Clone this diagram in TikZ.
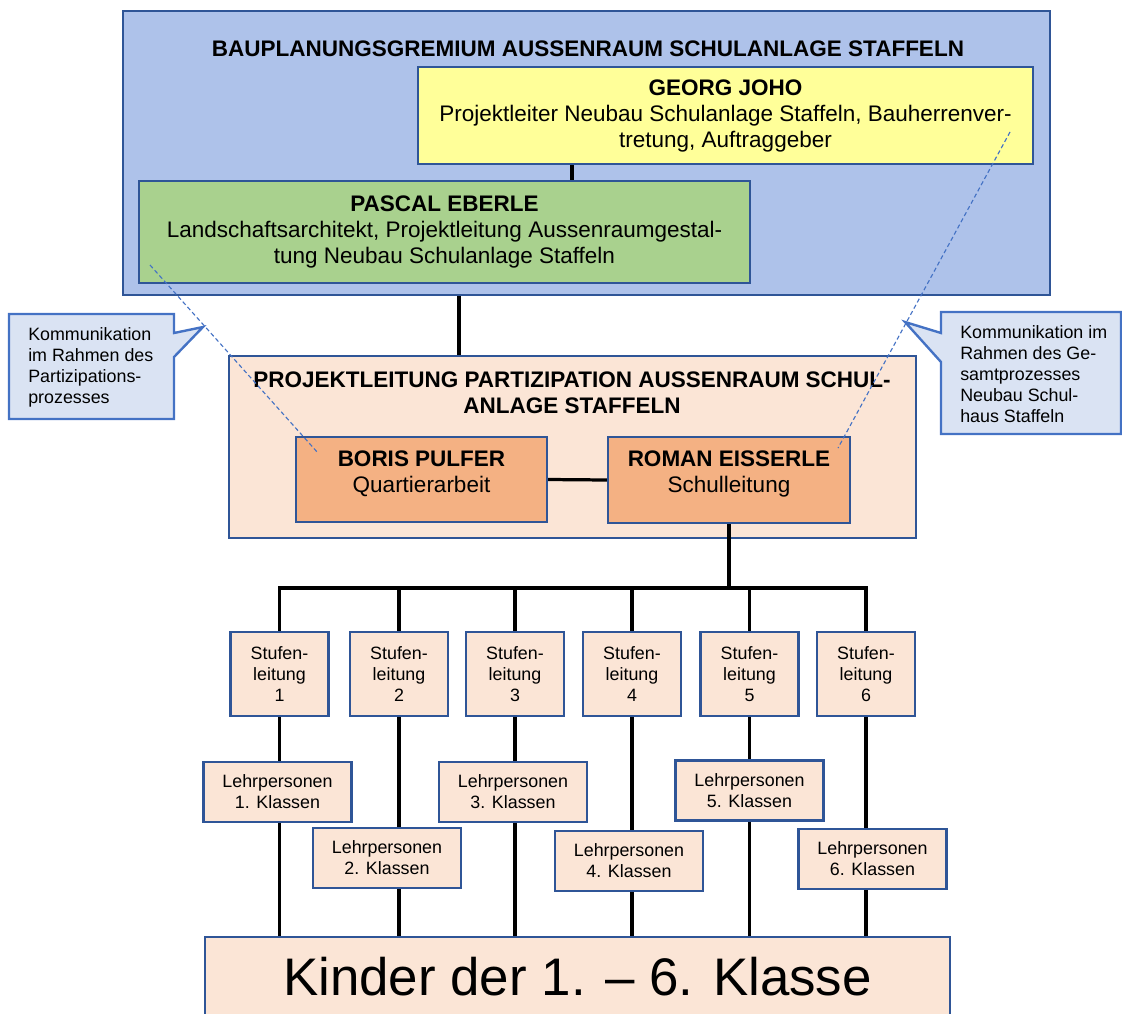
\documentclass[tikz,border=0pt]{standalone}
\usepackage{fontspec}
\setmainfont{Liberation Sans}

\definecolor{boxborder}{RGB}{47,85,151}
\definecolor{gremiumfill}{RGB}{174,194,234}
\definecolor{johofill}{RGB}{255,255,153}
\definecolor{eberlefill}{RGB}{169,209,142}
\definecolor{partfill}{RGB}{251,229,214}
\definecolor{leitfill}{RGB}{244,177,131}
\definecolor{calloutfill}{RGB}{218,227,243}
\definecolor{calloutborder}{RGB}{68,114,196}

\newcommand{\pxu}{0.025cm}

\tikzset{
  orgbox/.style={draw=boxborder, line width=1.5pt, inner sep=0pt, align=center},
  nametext/.style={font=\fontsize{16}{18.5}\selectfont},
  smalltext/.style={font=\fontsize{12.7}{14.9}\selectfont},
  link/.style={line width=2.3pt},
  hint/.style={draw=calloutborder, line width=0.8pt, dash pattern=on 3pt off 2pt},
  callout/.style={draw=calloutborder, fill=calloutfill, line width=1.7pt},
}

\begin{document}
\begin{tikzpicture}[x=\pxu, y=-\pxu]
  \useasboundingbox (0,0) rectangle (1122,1013);

  % Bauplanungsgremium
  \node[orgbox, fill=gremiumfill, minimum width=927*\pxu, minimum height=284*\pxu] (gremium) at (586.5,153) {};
  \node[nametext] (gremiumtitle) at (588,49) {\textbf{BAUPLANUNGSGREMIUM AUSSENRAUM SCHULANLAGE STAFFELN}};
  \node[orgbox, nametext, fill=johofill, minimum width=615*\pxu, minimum height=97*\pxu] (joho) at (725.5,115.5)
    {\textbf{GEORG JOHO}\\Projektleiter Neubau Schulanlage Staffeln, Bauherrenver-\\tretung, Auftraggeber};
  \node[orgbox, nametext, fill=eberlefill, minimum width=611*\pxu, minimum height=102*\pxu] (eberle) at (444.5,232)
    {\textbf{PASCAL EBERLE}\\Landschaftsarchitekt, Projektleitung Aussenraumgestal-\\tung Neubau Schulanlage Staffeln};

  % Projektleitung Partizipation
  \node[orgbox, fill=partfill, minimum width=687*\pxu, minimum height=182*\pxu] (partizipation) at (572.5,447) {};
  \node[nametext, align=center] (partitle) at (572,393)
    {\textbf{PROJEKTLEITUNG PARTIZIPATION AUSSENRAUM SCHUL-}\\\textbf{ANLAGE STAFFELN}};
  \node[orgbox, nametext, fill=leitfill, minimum width=251*\pxu, minimum height=85*\pxu, text depth=11.7pt] (pulfer) at (421.5,479.5)
    {\textbf{BORIS PULFER}\\Quartierarbeit};
  \node[orgbox, nametext, fill=leitfill, minimum width=242*\pxu, minimum height=86*\pxu, text depth=11.7pt] (eisserle) at (729,480)
    {\textbf{ROMAN EISSERLE}\\Schulleitung};

  % Stufen und Lehrpersonen
  \foreach \i/\sx in {1/279.5, 2/399, 3/515, 4/632, 5/749.5, 6/866}
    \node[orgbox, smalltext, fill=partfill, minimum width=98*\pxu, minimum height=84*\pxu] (stufe\i) at (\sx,674) {Stufen-\\leitung\\\i};
  \foreach \i/\lx/\ly in {1/277.5/792, 2/387/858, 3/513/792, 4/629/861, 5/749.5/790.5, 6/872.5/859}
    \node[orgbox, smalltext, fill=partfill, minimum width=148*\pxu, minimum height=60*\pxu] (lehrer\i) at (\lx,\ly) {Lehrpersonen\\\i. Klassen};

  \node[orgbox, fill=partfill, minimum width=745*\pxu, minimum height=80*\pxu, font=\fontsize{37.6}{44}\selectfont] (kinder) at (577.5,977)
    {Kinder der 1. – 6. Klasse};

  % Verbindungen
  \coordinate (jx) at (572,0);
  \coordinate (gx) at (459,0);
  \coordinate (bus) at (0,588);
  \draw[link] (jx |- joho.south) -- (jx |- eberle.north);
  \draw[link] (gx |- gremium.south) -- (gx |- partizipation.north);
  \draw[link] (pulfer.east) -- (eisserle.west);
  \draw[link] (eisserle.south) -- (eisserle.south |- bus);
  \draw[link] (stufe1.north) -- (stufe1.north |- bus) -- (stufe6.north |- bus) -- (stufe6.north);
  \foreach \i in {2,...,5}
    \draw[link] (stufe\i.north |- bus) -- (stufe\i.north);
  \foreach \i in {1,...,6} {
    \draw[link] (stufe\i.south) -- (stufe\i.south |- lehrer\i.north);
    \draw[link] (stufe\i.south |- lehrer\i.south) -- (stufe\i.south |- kinder.north);
  }

  % Sprechblasen
  \draw[callout] (9,314) -- (174,314) -- (174,333) -- (203,327) -- (174,357) -- (174,419) -- (9,419) -- cycle;
  \node[smalltext, align=left, anchor=west, inner sep=0pt] (komleft) at (28,367)
    {Kommunikation\\im Rahmen des\\Partizipations-\\prozesses};
  \draw[callout] (941,312) -- (1121,312) -- (1121,434) -- (941,434) -- (941,362) -- (905,322) -- (941,333) -- cycle;
  \node[smalltext, align=left, anchor=west, inner sep=0pt] (komright) at (960,374)
    {Kommunikation im\\Rahmen des Ge-\\samtprozesses\\Neubau Schul-\\haus Staffeln};

  \coordinate (hintl1) at (150,265);
  \coordinate (hintl2) at (318,453);
  \coordinate (hintr1) at (1010,132);
  \coordinate (hintr2) at (838,448);
  \draw[hint] (hintl1) -- (hintl2);
  \draw[hint] (hintr1) -- (hintr2);
\end{tikzpicture}
\end{document}
